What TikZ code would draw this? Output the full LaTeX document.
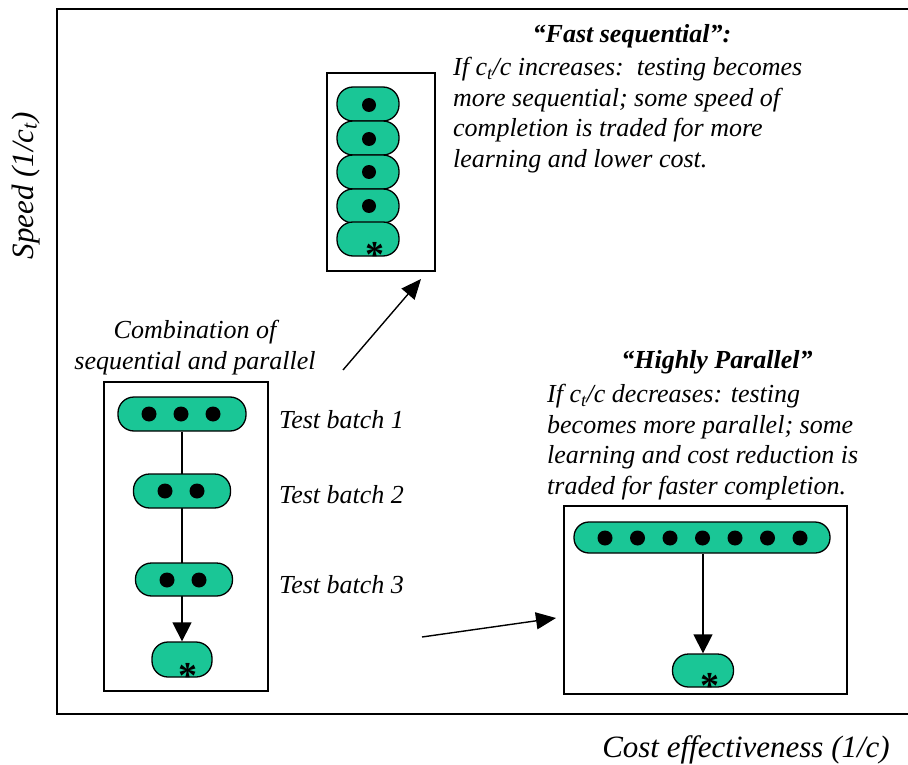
\documentclass[tikz,border=0pt]{standalone}
\usepackage{fontspec}
\setmainfont{Liberation Serif}
\usetikzlibrary{arrows.meta,backgrounds}
\definecolor{pillgreen}{RGB}{26,198,150}
\tikzset{
  pill/.style={draw=black, line width=1.3pt, fill=pillgreen, rounded corners=16pt, inner sep=0pt},
  dot/.style={circle, fill=black, inner sep=0pt, minimum size=#1},
  dot/.default=15pt,
  panel/.style={draw=black, line width=1.2pt},
  flow/.style={line width=1.3pt, -{Triangle[width=19pt,length=19pt]}},
  bigarrow/.style={line width=1.4pt, -{Triangle[width=17pt,length=20pt]}},
  body/.style={font=\itshape\fontsize{26}{30.5}\selectfont, inner sep=0pt},
  ttl/.style={font=\bfseries\itshape\fontsize{26}{30.5}\selectfont, inner sep=0pt},
  axislbl/.style={font=\itshape\fontsize{31}{34}\selectfont, inner sep=0pt},
  star/.style={font=\bfseries\fontsize{38}{38}\selectfont, inner sep=0pt, anchor=base}
}
\begin{document}
\begin{tikzpicture}[x=1pt,y=-1pt]
\useasboundingbox (0,0) rectangle (908,765);
% axes frame
\draw[line width=1.6pt] (908,9) -- (57,9) -- (57,714) -- (908,714);
\node[axislbl, rotate=90, anchor=base] (speed) at (33,186) {Speed (1/c\textsubscript{t})};
\node[axislbl, anchor=base] (cost) at (746,757) {Cost effectiveness (1/c)};

% ---------- combination panel ----------
\node[body, anchor=base, align=center] (comb) at (195,369) {Combination of\\sequential and parallel};
\draw[panel] (104,382) rectangle (268,691);
\node[pill, minimum width=128pt, minimum height=34pt] (b1) at (182,414) {};
\node[pill, minimum width=97pt, minimum height=34pt] (b2) at (182,491) {};
\node[pill, minimum width=97pt, minimum height=33pt] (b3) at (184,579.5) {};
\node[pill, minimum width=60pt, minimum height=35pt] (bend) at (182,659.5) {};
\begin{scope}[on background layer]
  \draw[flow] (b1.south) -- (bend.north);
\end{scope}
\node[dot] (b1d1) at (149,414) {};
\node[dot] (b1d2) at (181,414) {};
\node[dot] (b1d3) at (213,414) {};
\node[dot] (b2d1) at (165,491) {};
\node[dot] (b2d2) at (197,491) {};
\node[dot] (b3d1) at (167,580) {};
\node[dot] (b3d2) at (199,580) {};
\node[star] (bstar) at (188,688) {*};
\node[body, anchor=base west] (tb1) at (279,428) {Test batch 1};
\node[body, anchor=base west] (tb2) at (279,503) {Test batch 2};
\node[body, anchor=base west] (tb3) at (279,593) {Test batch 3};

% ---------- fast sequential panel ----------
\node[ttl] (fstitle) at (632,36) {“Fast sequential”:};
\node[body, anchor=north west, align=left] (fstext) at (453,57)
  {If c\textsubscript{t}/c increases:\ \ testing becomes\\
   more sequential; some speed of\\
   completion is traded for more\\
   learning and lower cost.};
\draw[panel] (327,73) rectangle (435,271);
\node[pill, minimum width=62pt, minimum height=34pt] (s1) at (368,104) {};
\node[pill, minimum width=62pt, minimum height=34pt] (s2) at (368,138) {};
\node[pill, minimum width=62pt, minimum height=34pt] (s3) at (368,172) {};
\node[pill, minimum width=62pt, minimum height=34pt] (s4) at (368,206) {};
\node[pill, minimum width=62pt, minimum height=34pt] (s5) at (368,239) {};
\node[dot=14pt] (s1d) at (369,105) {};
\node[dot=14pt] (s2d) at (369,139) {};
\node[dot=14pt] (s3d) at (369,172) {};
\node[dot=14pt] (s4d) at (369,206) {};
\node[star] (sstar) at (375,267) {*};

% ---------- highly parallel panel ----------
\node[ttl] (hptitle) at (717,362) {“Highly Parallel”};
\node[body, anchor=north west, align=left] (hptext) at (547,384)
  {If c\textsubscript{t}/c decreases: testing\\
   becomes more parallel; some\\
   learning and cost reduction is\\
   traded for faster completion.};
\draw[panel] (564,506) rectangle (847,694);
\node[pill, rounded corners=15pt, minimum width=256pt, minimum height=31pt] (p1) at (702,537.5) {};
\node[pill, minimum width=61pt, minimum height=33pt] (pend) at (703,670.5) {};
\begin{scope}[on background layer]
  \draw[flow] (p1.south -| pend.north) -- (pend.north);
\end{scope}
\foreach \i in {0,...,6} {
  \node[dot] (pd\i) at ({605+32.5*\i},538) {};
}
\node[star] (pstar) at (710,698) {*};

% ---------- transition arrows ----------
\coordinate (a1s) at (343,370);
\coordinate (a1e) at (421,279);
\coordinate (a2s) at (422,637);
\coordinate (a2e) at (556,618);
\draw[bigarrow] (a1s) -- (a1e);
\draw[bigarrow] (a2s) -- (a2e);
\end{tikzpicture}
\end{document}
